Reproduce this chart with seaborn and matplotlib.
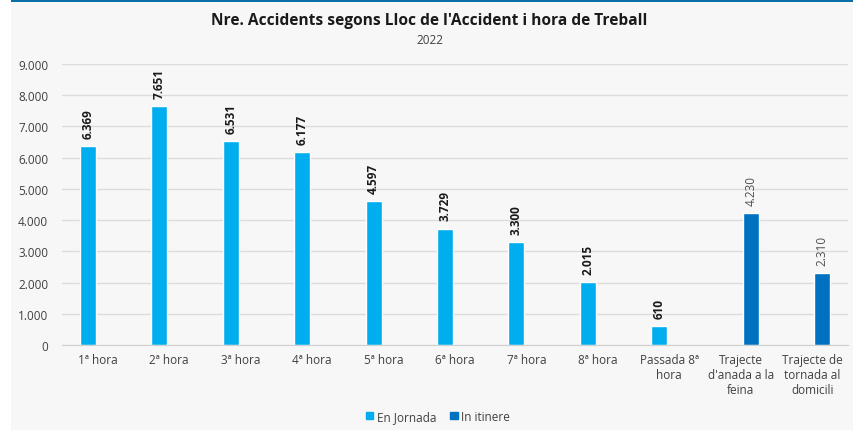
import pandas as pd
import matplotlib.pyplot as plt
import seaborn as sns
from matplotlib.patches import Patch, Rectangle
from matplotlib.ticker import FuncFormatter

categories = ['1ª hora', '2ª hora', '3ª hora', '4ª hora', '5ª hora', '6ª hora',
              '7ª hora', '8ª hora', 'Passada 8ª\nhora',
              "Trajecte\nd'anada a la\nfeina", 'Trajecte de\ntornada al\ndomicili']
values = [6369, 7651, 6531, 6177, 4597, 3729, 3300, 2015, 610, 4230, 2310]
series = ['En Jornada'] * 9 + ['In itinere'] * 2
series_order = ['En Jornada', 'In itinere']
colors = {'En Jornada': '#00aeef', 'In itinere': '#0070c0'}

df = pd.DataFrame({'cat': categories, 'val': values, 'serie': series})

def dots(v):
    return f'{int(v):,}'.replace(',', '.')

sns.set_style('white')
plt.rcParams['font.family'] = ['Open Sans', 'DejaVu Sans']

fig = plt.figure(figsize=(8.54, 4.31), dpi=100)
fig.patch.set_facecolor('white')
# grey panel + blue strip on top
fig.add_artist(Rectangle((11 / 854, 0), 1, 1, transform=fig.transFigure,
                         facecolor='#f7f7f7', edgecolor='none', zorder=-10))
fig.add_artist(Rectangle((11 / 854, 1 - 3 / 431), 1, 3 / 431, transform=fig.transFigure,
                         facecolor='#0a6ea8', edgecolor='none', zorder=-9))

ax = fig.add_axes([62 / 854, 1 - 346 / 431, 786 / 854, 281 / 431])
ax.set_facecolor('none')

sns.barplot(data=df, x='cat', y='val', hue='serie', hue_order=series_order,
            palette=colors, order=categories, width=0.56, gap=0.2,
            dodge=True, legend=False, ax=ax, saturation=1)

ax.set_ylim(0, 9000)
ax.set_yticks(range(0, 9001, 1000))
ax.yaxis.set_major_formatter(FuncFormatter(lambda v, p: dots(v)))
ax.grid(axis='y', color='#dcdcdc', linewidth=1)
ax.set_axisbelow(True)
for s in ['top', 'right', 'left']:
    ax.spines[s].set_visible(False)
ax.spines['bottom'].set_color('#d0d0d0')
ax.tick_params(axis='both', length=0, labelsize=8.5, colors='#404040')
ax.tick_params(axis='y', pad=10)
ax.tick_params(axis='x', pad=6)
ax.set_xlabel('')
ax.set_ylabel('')

for cont, name in zip(ax.containers, series_order):
    for bar in cont:
        h = bar.get_height()
        if pd.isna(h) or h == 0:
            continue
        ax.annotate(dots(h), (bar.get_x() + bar.get_width() / 2, h),
                    xytext=(0, 6), textcoords='offset points', rotation=90,
                    ha='center', va='bottom', fontsize=8.5,
                    fontweight='bold' if name == 'En Jornada' else 'normal',
                    color='#1a1a1a' if name == 'En Jornada' else '#505050')

fig.text(0.503, 0.952, "Nre. Accidents segons Lloc de l'Accident i hora de Treball",
         ha='center', va='center', fontsize=11.2, fontweight='bold', color='#1a1a1a')
fig.text(0.503, 0.907, '2022', ha='center', va='center', fontsize=8.5, color='#404040')

handles = [Patch(color=colors[s], label=s) for s in series_order]
fig.legend(handles=handles, loc='center', bbox_to_anchor=(0.513, 0.032), ncol=2,
           frameon=False, fontsize=8.5, handlelength=0.6, handleheight=0.6,
           handletextpad=0.3, columnspacing=1.2, labelcolor='#404040')

fig.savefig('out.png', dpi=100, facecolor=fig.get_facecolor())
